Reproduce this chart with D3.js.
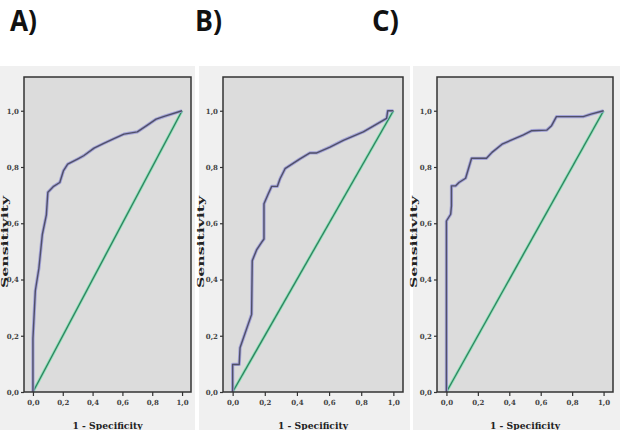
<!DOCTYPE html>
<html>
<head>
<meta charset="utf-8">
<script src="https://cdn.jsdelivr.net/npm/d3@7"></script>
<style>
  body { margin: 0; background: #fff; }
  svg { display: block; }
</style>
</head>
<body>
<div id="chart"></div>
<script>
(function() {
    'use strict';

    // Panel labels
    var panelNames = ['A)', 'B)', 'C)'];

    // ROC curves, 1 - specificity (fpr) and sensitivity (tpr) for each panel
    var fprA = [0, 0, 0.016, 0.04, 0.063, 0.09, 0.10, 0.136, 0.18, 0.204, 0.233, 0.305, 0.34, 0.41, 0.475, 0.54, 0.61, 0.70, 0.77, 0.826, 0.88, 1.0];
    var tprA = [0, 0.19, 0.36, 0.44, 0.56, 0.63, 0.71, 0.73, 0.745, 0.786, 0.81, 0.83, 0.84, 0.867, 0.884, 0.90, 0.917, 0.925, 0.95, 0.97, 0.98, 1.0];

    var fprB = [0, 0, 0.041, 0.046, 0.118, 0.122, 0.149, 0.18, 0.195, 0.195, 0.222, 0.243, 0.278, 0.295, 0.326, 0.419, 0.481, 0.523, 0.606, 0.689, 0.813, 0.958, 0.965, 1.0];
    var tprB = [0, 0.098, 0.098, 0.157, 0.276, 0.467, 0.505, 0.532, 0.544, 0.669, 0.705, 0.731, 0.731, 0.758, 0.794, 0.829, 0.85, 0.85, 0.871, 0.895, 0.925, 0.973, 1.0, 1.0];

    var fprC = [0, 0, 0.027, 0.032, 0.032, 0.059, 0.08, 0.122, 0.16, 0.255, 0.29, 0.354, 0.427, 0.49, 0.543, 0.638, 0.669, 0.70, 0.87, 0.92, 1.0];
    var tprC = [0, 0.608, 0.632, 0.662, 0.733, 0.733, 0.745, 0.76, 0.831, 0.831, 0.852, 0.881, 0.899, 0.914, 0.929, 0.931, 0.947, 0.979, 0.979, 0.988, 1.0];

    // Reference (chance) line
    var diagonal = [0, 1];

    // Axis ticks
    var tickValues = [0, 0.2, 0.4, 0.6, 0.8, 1.0];

    var width = 623, height = 430;

    var panels = [
        { name: panelNames[0], fpr: fprA, tpr: tprA, titleX: 10, bg: [0, 195], frame: [24, 191], yLabelX: 8 },
        { name: panelNames[1], fpr: fprB, tpr: tprB, titleX: 195, bg: [199, 410], frame: [223, 403], yLabelX: 204 },
        { name: panelNames[2], fpr: fprC, tpr: tprC, titleX: 372, bg: [413, 620], frame: [437, 613], yLabelX: 417 }
    ];

    var frameTop = 77, frameBottom = 392;
    var fmt = function(d) { return d3.format('.1f')(d).replace('.', ','); };

    var svg = d3.select('#chart').append('svg')
        .attr('width', width)
        .attr('height', height);

    panels.forEach(function(p) {
        var x = d3.scaleLinear().domain([-0.06, 1.06]).range(p.frame);
        var y = d3.scaleLinear().domain([0, 1.12]).range([frameBottom, frameTop]);

        // outer chart background
        svg.append('rect')
            .attr('x', p.bg[0]).attr('y', 66)
            .attr('width', p.bg[1] - p.bg[0]).attr('height', height - 66)
            .attr('fill', '#f0f0f0');

        // panel title
        svg.append('text')
            .attr('x', p.titleX).attr('y', 31)
            .attr('font-family', 'Open Sans, sans-serif')
            .attr('font-weight', 'bold')
            .attr('font-size', 28)
            .attr('textLength', 27)
            .attr('lengthAdjust', 'spacingAndGlyphs')
            .attr('fill', '#111')
            .text(p.name);

        // plot area
        svg.append('rect')
            .attr('x', p.frame[0]).attr('y', frameTop)
            .attr('width', p.frame[1] - p.frame[0]).attr('height', frameBottom - frameTop)
            .attr('fill', '#dcdcdc');

        var g = svg.append('g');

        var line = d3.line()
            .x(function(d) { return x(d[0]); })
            .y(function(d) { return y(d[1]); });

        var diagPts = diagonal.map(function(v) { return [v, v]; });
        var rocPts = p.fpr.map(function(v, i) { return [v, p.tpr[i]]; });

        // diagonal: light halo then dark core
        g.append('path').datum(diagPts).attr('d', line)
            .attr('fill', 'none').attr('stroke', '#8fe3b8').attr('stroke-width', 3);
        g.append('path').datum(diagPts).attr('d', line)
            .attr('fill', 'none').attr('stroke', '#2f8060').attr('stroke-width', 1.3);

        // ROC curve: lavender halo then dark core
        g.append('path').datum(rocPts).attr('d', line)
            .attr('fill', 'none').attr('stroke', '#a3a3d8').attr('stroke-width', 3.2)
            .attr('stroke-linejoin', 'round');
        g.append('path').datum(rocPts).attr('d', line)
            .attr('fill', 'none').attr('stroke', '#505068').attr('stroke-width', 1.4)
            .attr('stroke-linejoin', 'round');

        // frame
        svg.append('rect')
            .attr('x', p.frame[0]).attr('y', frameTop)
            .attr('width', p.frame[1] - p.frame[0]).attr('height', frameBottom - frameTop)
            .attr('fill', 'none').attr('stroke', '#333').attr('stroke-width', 1.5);

        // axes
        var xAxis = svg.append('g')
            .attr('transform', 'translate(0,' + frameBottom + ')')
            .call(d3.axisBottom(x).tickValues(tickValues).tickSize(4).tickFormat(fmt));
        var yAxis = svg.append('g')
            .attr('transform', 'translate(' + p.frame[0] + ',0)')
            .call(d3.axisLeft(y).tickValues(tickValues).tickSize(3).tickPadding(2).tickFormat(fmt));

        [xAxis, yAxis].forEach(function(a) {
            a.select('.domain').remove();
            a.selectAll('line').attr('stroke', '#333').attr('stroke-width', 1.2);
            a.selectAll('text')
                .attr('font-family', 'DejaVu Serif, serif')
                .attr('font-weight', 'bold')
                .attr('font-size', 7)
                .attr('fill', '#444');
        });
        xAxis.selectAll('text').attr('dy', '0.9em');

        // axis titles
        svg.append('text')
            .attr('x', (x(0) + x(1)) / 2).attr('y', 429)
            .attr('text-anchor', 'middle')
            .attr('font-family', 'DejaVu Serif, serif')
            .attr('font-weight', 'bold')
            .attr('font-size', 9)
            .attr('textLength', 70)
            .attr('lengthAdjust', 'spacingAndGlyphs')
            .attr('fill', '#222')
            .text('1 - Specificity');

        svg.append('text')
            .attr('transform', 'translate(' + p.yLabelX + ',242) rotate(-90)')
            .attr('text-anchor', 'middle')
            .attr('font-family', 'DejaVu Serif, serif')
            .attr('font-weight', 'bold')
            .attr('font-size', 9)
            .attr('textLength', 92)
            .attr('lengthAdjust', 'spacingAndGlyphs')
            .attr('fill', '#222')
            .text('Sensitivity');
    });
})();
</script>
</body>
</html>
